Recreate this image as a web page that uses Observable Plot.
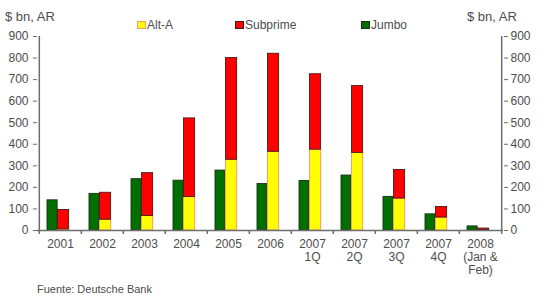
<!DOCTYPE html>
<html>
<head>
<meta charset="utf-8">
<script src="https://cdn.jsdelivr.net/npm/d3@7"></script>
<script src="https://cdn.jsdelivr.net/npm/@observablehq/plot@0.6"></script>
<style>
  html, body { margin: 0; padding: 0; background: #fff; }
  #wrap { position: relative; width: 550px; height: 300px; font-family: "Liberation Sans", Arial, sans-serif; color: #4d4d4d; }
  .t { position: absolute; white-space: nowrap; }
  .sw { position: absolute; width: 7px; height: 6px; }
</style>
</head>
<body>
<div id="wrap"></div>
<script>
const categories = ["2001","2002","2003","2004","2005","2006","2007\n1Q","2007\n2Q","2007\n3Q","2007\n4Q","2008\n(Jan &\nFeb)"];
const jumbo    = [140, 170, 238, 231, 278, 216, 230, 255, 156, 75, 19];
const altA     = [5, 50, 67, 155, 328, 365, 375, 360, 148, 60, 2];
const subprime = [90, 125, 199, 365, 472, 455, 350, 310, 133, 49, 7];
const yTicks = [0, 100, 200, 300, 400, 500, 600, 700, 800, 900];
const seriesNames = ["Alt-A", "Subprime", "Jumbo"];
const unitLabel = "$ bn, AR";
const source = "Fuente: Deutsche Bank";

const W = 550, H = 300, ML = 37, MR = 47, MT = 36, MB = 70;
const bw = (W - ML - MR) / categories.length;
const axisColor = "#6e6e6e";
const textColor = "#4d4d4d";
const idx = new Map(categories.map((c, i) => [c, i]));

const greenL = 8, greenW = 10.5, stackW = 11.5;

const chart = Plot.plot({
  width: W, height: H,
  marginLeft: ML, marginRight: MR, marginTop: MT, marginBottom: MB,
  style: {fontFamily: "'Liberation Sans', Arial, sans-serif", fontSize: "12px", color: textColor, background: "transparent"},
  x: {type: "band", domain: categories, padding: 0, axis: null},
  y: {domain: [0, 900], axis: null},
  marks: [
    Plot.barY(categories, {x: d => d, y: d => jumbo[idx.get(d)], fill: "#006f00", stroke: "#173317", strokeWidth: 0.9,
      insetLeft: greenL, insetRight: bw - greenL - greenW}),
    Plot.barY(categories, {x: d => d, y: d => altA[idx.get(d)], fill: "#ffff00", stroke: "#ff9a66", strokeWidth: 1,
      insetLeft: greenL + greenW, insetRight: bw - greenL - greenW - stackW}),
    Plot.barY(categories, {x: d => d, y1: d => altA[idx.get(d)], y2: d => altA[idx.get(d)] + subprime[idx.get(d)],
      fill: "#ff0000", stroke: "#4a1a1a", strokeWidth: 0.9,
      insetLeft: greenL + greenW, insetRight: bw - greenL - greenW - stackW}),
    Plot.ruleY([0], {stroke: axisColor, strokeWidth: 1.5}),
    Plot.ruleX(categories.slice(1), {x: d => d, dx: -bw / 2, stroke: axisColor, strokeWidth: 1.5, insetTop: H - MT - MB, insetBottom: -4}),
    Plot.ruleX([categories[0]], {x: d => d, dx: -bw / 2, stroke: axisColor, strokeWidth: 1.5, insetBottom: -4}),
    Plot.ruleX([categories[categories.length - 1]], {x: d => d, dx: bw / 2, stroke: axisColor, strokeWidth: 1.5, insetBottom: -4}),
    Plot.axisY({anchor: "left", ticks: yTicks, tickSize: 4, tickPadding: 5, stroke: axisColor, fill: textColor, fontSize: 12, label: null}),
    Plot.axisY({anchor: "right", ticks: yTicks, tickSize: 4, tickPadding: 3, stroke: axisColor, fill: textColor, fontSize: 12, label: null}),
    Plot.axisX({anchor: "bottom", tickSize: 0, tickPadding: 9, fill: textColor, fontSize: 12, lineHeight: 1.05, label: null, tickFormat: d => d})
  ]
});

const wrap = document.getElementById("wrap");
chart.style.position = "absolute";
chart.style.left = "0px";
chart.style.top = "0px";
wrap.appendChild(chart);

function addText(txt, x, y, size) {
  const el = document.createElement("div");
  el.className = "t";
  el.textContent = txt;
  el.style.left = x + "px";
  el.style.top = y + "px";
  el.style.fontSize = size + "px";
  el.style.lineHeight = "1";
  wrap.appendChild(el);
  return el;
}
addText(unitLabel, 5, 10, 13);
addText(unitLabel, 467, 10, 13);

const legendColors = [["#ffff00", "#ff9a66"], ["#ff0000", "#4a1a1a"], ["#006f00", "#173317"]];
const legendX = [137, 235, 361];
seriesNames.forEach((name, i) => {
  const sw = document.createElement("div");
  sw.className = "sw";
  sw.style.left = legendX[i] + "px";
  sw.style.top = "21px";
  sw.style.background = legendColors[i][0];
  sw.style.border = "1px solid " + legendColors[i][1];
  wrap.appendChild(sw);
  addText(name, legendX[i] + 10, 19, 12);
});
addText(source, 37, 284, 11);
</script>
</body>
</html>
